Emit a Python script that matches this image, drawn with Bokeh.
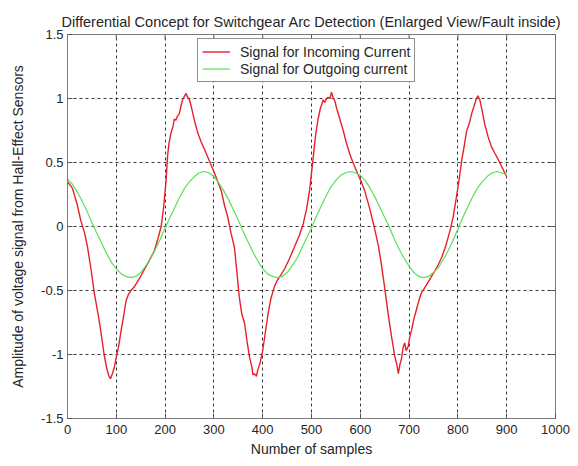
import math
from bokeh.plotting import figure
from bokeh.models import (Range1d, FixedTicker, Legend, LegendItem,
                          CustomJSTickFormatter, ColumnDataSource)
from bokeh.embed import file_html
from bokeh.resources import INLINE

# ---- data ----
title_text = "Differential Concept for Switchgear Arc Detection (Enlarged View/Fault inside)"
x_label = "Number of samples"
y_label = "Amplitude of voltage signal from Hall-Effect Sensors"
legend_labels = ["Signal for Incoming Current", "Signal for Outgoing current"]

x_ticks = [0, 100, 200, 300, 400, 500, 600, 700, 800, 900, 1000]
y_ticks = [-1.5, -1, -0.5, 0, 0.5, 1, 1.5]

incoming_x = [0, 10, 20, 27, 35, 41, 48, 55, 62, 68, 75, 80, 84, 88, 92, 96, 99,
              105, 110, 115, 120, 125, 130, 137, 147, 157, 167, 178, 185, 192, 197,
              202, 205, 208, 212, 216, 219, 222, 225, 229, 233, 236, 240, 243, 246,
              250, 254, 257, 262, 267, 274, 281, 290, 301, 310, 315, 322, 328, 335,
              342, 347, 352, 357, 363, 368, 373, 378, 380, 383, 387, 390, 395, 400,
              405, 411, 417, 424, 430, 437, 445, 455, 465, 475, 483, 490, 496, 503,
              508, 513, 518, 524, 527, 531, 534, 538, 541, 545, 548, 551, 558, 565,
              571, 578, 586, 595, 602, 609, 620, 630, 637, 643, 650, 657, 664, 671,
              675, 678, 681, 684, 688, 691, 694, 698, 701, 705, 710, 715, 720, 725,
              735, 746, 757, 767, 776, 784, 790, 797, 803, 808, 813, 818, 823, 828,
              833, 838, 841, 845, 850, 855, 862, 869, 876, 883, 892, 900]
incoming_y = [0.35, 0.30, 0.17, 0.05, -0.05, -0.16, -0.33, -0.52, -0.67, -0.81, -1.00,
              -1.10, -1.16, -1.19, -1.15, -1.10, -1.04,
              -0.93, -0.81, -0.70, -0.58, -0.53, -0.50, -0.47, -0.41, -0.34, -0.27,
              -0.19, -0.10, 0.00, 0.15,
              0.36, 0.55, 0.65, 0.73, 0.78, 0.84, 0.83, 0.86, 0.88, 0.95, 0.99, 1.02,
              1.04, 1.01,
              0.99, 0.93, 0.88, 0.80, 0.73, 0.66, 0.60, 0.52, 0.42, 0.33, 0.28, 0.16,
              0.08, -0.05,
              -0.16, -0.35, -0.55, -0.68, -0.76, -0.90, -1.02, -1.10, -1.16, -1.15,
              -1.17, -1.12, -1.06, -0.97,
              -0.84, -0.68, -0.56, -0.47, -0.42, -0.38, -0.33, -0.25, -0.16, -0.07,
              0.02, 0.14, 0.28, 0.52,
              0.70, 0.83, 0.92, 0.99, 0.97, 1.00, 1.01, 1.00, 1.05, 1.00, 0.98, 0.93,
              0.84, 0.75,
              0.66, 0.57, 0.49, 0.41, 0.35, 0.28, 0.13, -0.03, -0.15, -0.29, -0.48,
              -0.68, -0.86, -1.02,
              -1.08, -1.15, -1.08, -1.04, -0.94, -0.91, -0.97, -0.94, -0.87, -0.81,
              -0.72, -0.65, -0.58, -0.52,
              -0.46, -0.39, -0.32, -0.24, -0.14, -0.03, 0.07, 0.23, 0.38, 0.52, 0.63,
              0.75, 0.80, 0.88,
              0.94, 1.00, 1.02, 0.99, 0.90, 0.80, 0.70, 0.62, 0.57, 0.52, 0.45, 0.39]

outgoing_x = list(range(0, 901, 10))
outgoing_y = [0.37, 0.33, 0.27, 0.20, 0.12, 0.03, -0.05, -0.13, -0.21, -0.28,
              -0.33, -0.37, -0.39, -0.40, -0.39, -0.36, -0.31, -0.25, -0.18, -0.10,
              -0.01, 0.07, 0.15, 0.23, 0.30, 0.35, 0.39, 0.42, 0.43, 0.42,
              0.39, 0.34, 0.28, 0.21, 0.13, 0.05, -0.04, -0.12, -0.20, -0.27,
              -0.33, -0.37, -0.39, -0.40, -0.39, -0.36, -0.31, -0.25, -0.17, -0.09,
              -0.01, 0.08, 0.16, 0.24, 0.31, 0.36, 0.40, 0.42, 0.43, 0.42,
              0.40, 0.36, 0.30, 0.23, 0.15, 0.07, -0.01, -0.10, -0.18, -0.25,
              -0.31, -0.36, -0.39, -0.40, -0.39, -0.36, -0.32, -0.26, -0.19, -0.11,
              -0.02, 0.07, 0.15, 0.23, 0.30, 0.35, 0.39, 0.42, 0.43, 0.42,
              0.40]

# ---- figure ----
FONT = "Liberation Sans"
TXT = "#262626"
FRAME = "#7a7a7a"
TICK = "#555555"

p = figure(width=578, height=466, output_backend="svg", toolbar_location=None,
           x_range=Range1d(0, 1000), y_range=Range1d(-1.5, 1.5),
           min_border_left=67, min_border_right=23, min_border_top=34,
           min_border_bottom=48)
p.background_fill_color = "white"
p.border_fill_color = "white"
p.outline_line_color = FRAME
p.outline_line_width = 1

p.title.text = title_text
p.title.text_font = FONT
p.title.text_font_size = "14.5px"
p.title.text_font_style = "normal"
p.title.text_color = TXT
p.title.align = "center"

fmt = CustomJSTickFormatter(code="return String(Math.round(tick*10)/10);")

for ax, ticks in ((p.xaxis[0], x_ticks), (p.yaxis[0], y_ticks)):
    ax.ticker = FixedTicker(ticks=ticks)
    ax.formatter = fmt
    ax.major_tick_in = 5
    ax.major_tick_out = 0
    ax.minor_tick_line_color = None
    ax.major_tick_line_color = TICK
    ax.axis_line_color = FRAME
    ax.major_label_text_font = FONT
    ax.major_label_text_font_size = "13px"
    ax.major_label_text_color = TXT
    ax.axis_label_text_font = FONT
    ax.axis_label_text_font_size = "14px"
    ax.axis_label_text_font_style = "normal"
    ax.axis_label_text_color = TXT

p.xaxis.axis_label = x_label
p.yaxis.axis_label = y_label
p.xaxis.major_label_standoff = 6
p.xaxis.axis_label_standoff = 4
p.yaxis.major_label_standoff = 4
p.yaxis.axis_label_standoff = 12

# inward ticks along the top and right edges of the box
p.ray(x=x_ticks, y=[y_ticks[-1]] * len(x_ticks), angle=-math.pi / 2, length=5,
      length_units="screen", line_color=TICK, line_width=1)
p.ray(x=[x_ticks[-1]] * len(y_ticks), y=y_ticks, angle=math.pi, length=5,
      length_units="screen", line_color=TICK, line_width=1)

p.xgrid.ticker = FixedTicker(ticks=x_ticks)
p.ygrid.ticker = FixedTicker(ticks=y_ticks)
for g in (p.xgrid[0], p.ygrid[0]):
    g.grid_line_color = "#222222"
    g.grid_line_dash = "3 3"
    g.grid_line_width = 1
    g.grid_line_alpha = 0.9

src_in = ColumnDataSource(dict(x=incoming_x, y=incoming_y))
src_out = ColumnDataSource(dict(x=outgoing_x, y=outgoing_y))
r_in = p.line("x", "y", source=src_in, line_color="#e8202a", line_width=1.4)
r_out = p.line("x", "y", source=src_out, line_color="#5ce05c", line_width=1.2)

legend = Legend(items=[LegendItem(label=legend_labels[0], renderers=[r_in]),
                       LegendItem(label=legend_labels[1], renderers=[r_out])],
                location=(130, 336))
legend.label_text_font = FONT
legend.label_text_font_size = "14px"
legend.label_text_color = TXT
legend.border_line_color = "#222222"
legend.border_line_width = 1
legend.background_fill_color = "white"
legend.background_fill_alpha = 1
legend.padding = 4
legend.spacing = 0
legend.margin = 0
legend.glyph_width = 28
legend.glyph_height = 17
legend.label_height = 17
legend.label_standoff = 10
p.add_layout(legend, "center")

open("out.html", "w").write(file_html(p, INLINE))
